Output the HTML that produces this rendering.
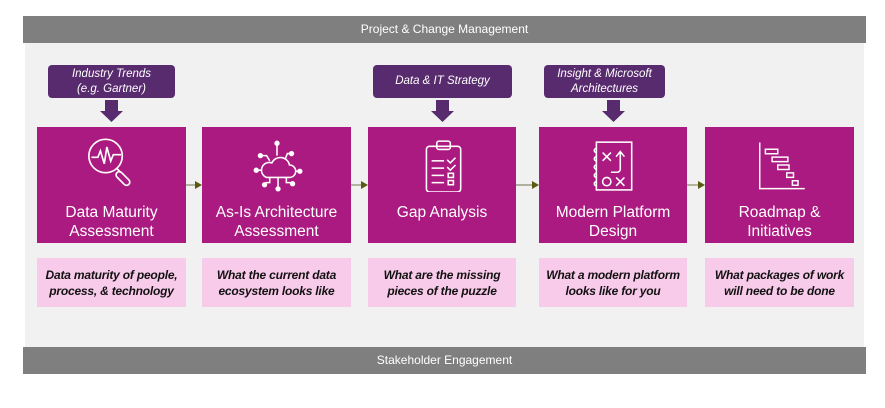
<!DOCTYPE html>
<html><head><meta charset="utf-8"><style>
body{margin:0;width:885px;height:408px;background:#fff;position:relative;font-family:"Liberation Sans",Arial,sans-serif;overflow:hidden}
.a{position:absolute}
.bar{background:#7f7f7f;color:#fff;font-size:12px;text-align:center;line-height:27px}
.box{background:#ab1a80;color:#fff;font-size:15.5px;text-align:center;line-height:19px}
.box .t{position:absolute;left:0;right:0;top:76px}
.pk{background:#f9cbea;color:#111;font-size:12px;font-weight:bold;font-style:italic;text-align:center;line-height:16px;display:flex;align-items:center;justify-content:center;letter-spacing:-0.2px}
.co{background:#582a6e;color:#fff;border-radius:4px;font-size:11.5px;font-style:italic;text-align:center;line-height:15px;display:flex;align-items:center;justify-content:center}
svg.ic{position:absolute;left:50%;top:11px;margin-left:-26px}
</style></head><body>
<div class="a" style="left:25px;top:43px;width:839px;height:304px;background:#f1f1f1"></div>
<div class="a bar" style="left:23px;top:16px;width:843px;height:27px">Project &amp; Change Management</div>
<div class="a bar" style="left:23px;top:347px;width:843px;height:27px">Stakeholder Engagement</div>

<div class="a co" style="left:48px;top:65px;width:127px;height:33px">Industry Trends<br>(e.g. Gartner)</div>
<div class="a co" style="left:373px;top:65px;width:139px;height:33px">Data &amp; IT Strategy</div>
<div class="a co" style="left:544px;top:65px;width:121px;height:33px">Insight &amp; Microsoft<br>Architectures</div>

<svg class="a" style="left:0;top:0" width="885" height="408">
<g fill="#582a6e">
<polygon points="105,100 118,100 118,111 123,111 111.5,122 100,111 105,111"/>
<polygon points="436,100 449,100 449,111 454,111 442.5,122 431,111 436,111"/>
<polygon points="607,100 620,100 620,111 625,111 613.5,122 602,111 607,111"/>
</g>
<g stroke="#8a8a6a" stroke-width="1.2" fill="#5a5a10">
<line x1="186" y1="185" x2="196" y2="185"/><polygon points="195,181 202,185 195,189" stroke="none"/>
<line x1="351" y1="185" x2="362" y2="185"/><polygon points="361,181 368,185 361,189" stroke="none"/>
<line x1="516" y1="185" x2="533" y2="185"/><polygon points="532,181 539,185 532,189" stroke="none"/>
<line x1="687" y1="185" x2="699" y2="185"/><polygon points="698,181 705,185 698,189" stroke="none"/>
</g>
</svg>

<div class="a box" style="left:37px;top:127px;width:149px;height:116px">
<svg class="ic" width="52" height="54" viewBox="2 2 40 42" fill="none" stroke="#fff" stroke-width="1.3"><circle cx="17" cy="16" r="13"/><polyline points="6,17 11,17 13,12 16,22 18,9 21,20 23,15 29,15"/><line x1="26" y1="26" x2="29" y2="29"/><rect x="28" y="27" width="5" height="13" rx="2.5" transform="rotate(-45 30.5 33.5)"/></svg>
<div class="t">Data Maturity<br>Assessment</div></div>

<div class="a box" style="left:202px;top:127px;width:149px;height:116px">
<svg class="ic" width="52" height="54" viewBox="0 0 50 52" fill="none" stroke="#fff" stroke-width="1.5"><path d="M15,38 h22 a6,6 0 0 0 0,-12 a9,9 0 0 0 -17,-2 a7,7 0 0 0 -5,14z"/><line x1="25" y1="17" x2="25" y2="6"/><circle cx="25" cy="5" r="1.8" fill="#fff"/><path d="M18,22 l-3,-5 h-5"/><circle cx="9" cy="17" r="1.8" fill="#fff"/><path d="M33,20 l2,-5 h3"/><circle cx="39" cy="15" r="1.8" fill="#fff"/><path d="M43,32 h3"/><circle cx="47" cy="32" r="1.8" fill="#fff"/><path d="M10,31 h-5"/><circle cx="5" cy="31" r="1.8" fill="#fff"/><line x1="26" y1="38" x2="26" y2="48"/><circle cx="26" cy="49" r="1.8" fill="#fff"/><path d="M18,38 v5 h-4"/><circle cx="13" cy="45" r="1.8" fill="#fff"/><path d="M34,38 v5 h4"/><circle cx="40" cy="44" r="1.8" fill="#fff"/></svg>
<div class="t">As-Is Architecture<br>Assessment</div></div>

<div class="a box" style="left:368px;top:127px;width:148px;height:116px">
<svg class="ic" width="52" height="54" viewBox="0 0 50 52" fill="none" stroke="#fff" stroke-width="1.5"><rect x="10" y="8" width="33" height="44" rx="3"/><rect x="20" y="3" width="13" height="8" rx="2"/><line x1="15" y1="22" x2="27" y2="22"/><line x1="15" y1="29" x2="27" y2="29"/><line x1="15" y1="36" x2="27" y2="36"/><line x1="15" y1="43" x2="27" y2="43"/><polyline points="30,21 33,24 38,19"/><polyline points="30,28 33,31 38,26"/><rect x="31" y="34" width="5" height="4"/><rect x="31" y="41" width="5" height="4"/></svg>
<div class="t">Gap Analysis</div></div>

<div class="a box" style="left:539px;top:127px;width:148px;height:116px">
<svg class="ic" width="52" height="54" viewBox="0 0 50 52" fill="none" stroke="#fff" stroke-width="1.5"><rect x="9" y="4" width="34" height="46"/><path d="M9,10 a2,2 0 0 0 0,4 M9,18 a2,2 0 0 0 0,4 M9,26 a2,2 0 0 0 0,4 M9,34 a2,2 0 0 0 0,4 M9,42 a2,2 0 0 0 0,4"/><path d="M15,14 l8,8 M23,14 l-8,8"/><path d="M28,38 l8,8 M36,38 l-8,8"/><circle cx="19" cy="42" r="4"/><path d="M23,33 h6 a3,3 0 0 0 3,-3 v-16 M28,18 l4,-5 4,5"/></svg>
<div class="t">Modern Platform<br>Design</div></div>

<div class="a box" style="left:705px;top:127px;width:149px;height:116px">
<svg class="ic" width="52" height="54" viewBox="4 2 46 48" fill="none" stroke="#fff" stroke-width="1.3"><polyline points="9,6 9,47 49,47"/><rect x="14" y="12" width="11" height="4"/><rect x="20" y="19" width="14" height="4"/><rect x="25" y="26" width="10" height="4"/><rect x="33" y="33" width="6" height="4"/><rect x="38" y="40" width="5" height="4"/></svg>
<div class="t">Roadmap &amp;<br>Initiatives</div></div>

<div class="a pk" style="left:37px;top:258px;width:149px;height:49px">Data maturity of people,<br>process, &amp; technology</div>
<div class="a pk" style="left:202px;top:258px;width:149px;height:49px">What the current data<br>ecosystem looks like</div>
<div class="a pk" style="left:368px;top:258px;width:148px;height:49px">What are the missing<br>pieces of the puzzle</div>
<div class="a pk" style="left:539px;top:258px;width:148px;height:49px">What a modern platform<br>looks like for you</div>
<div class="a pk" style="left:705px;top:258px;width:149px;height:49px">What packages of work<br>will need to be done</div>
</body></html>
